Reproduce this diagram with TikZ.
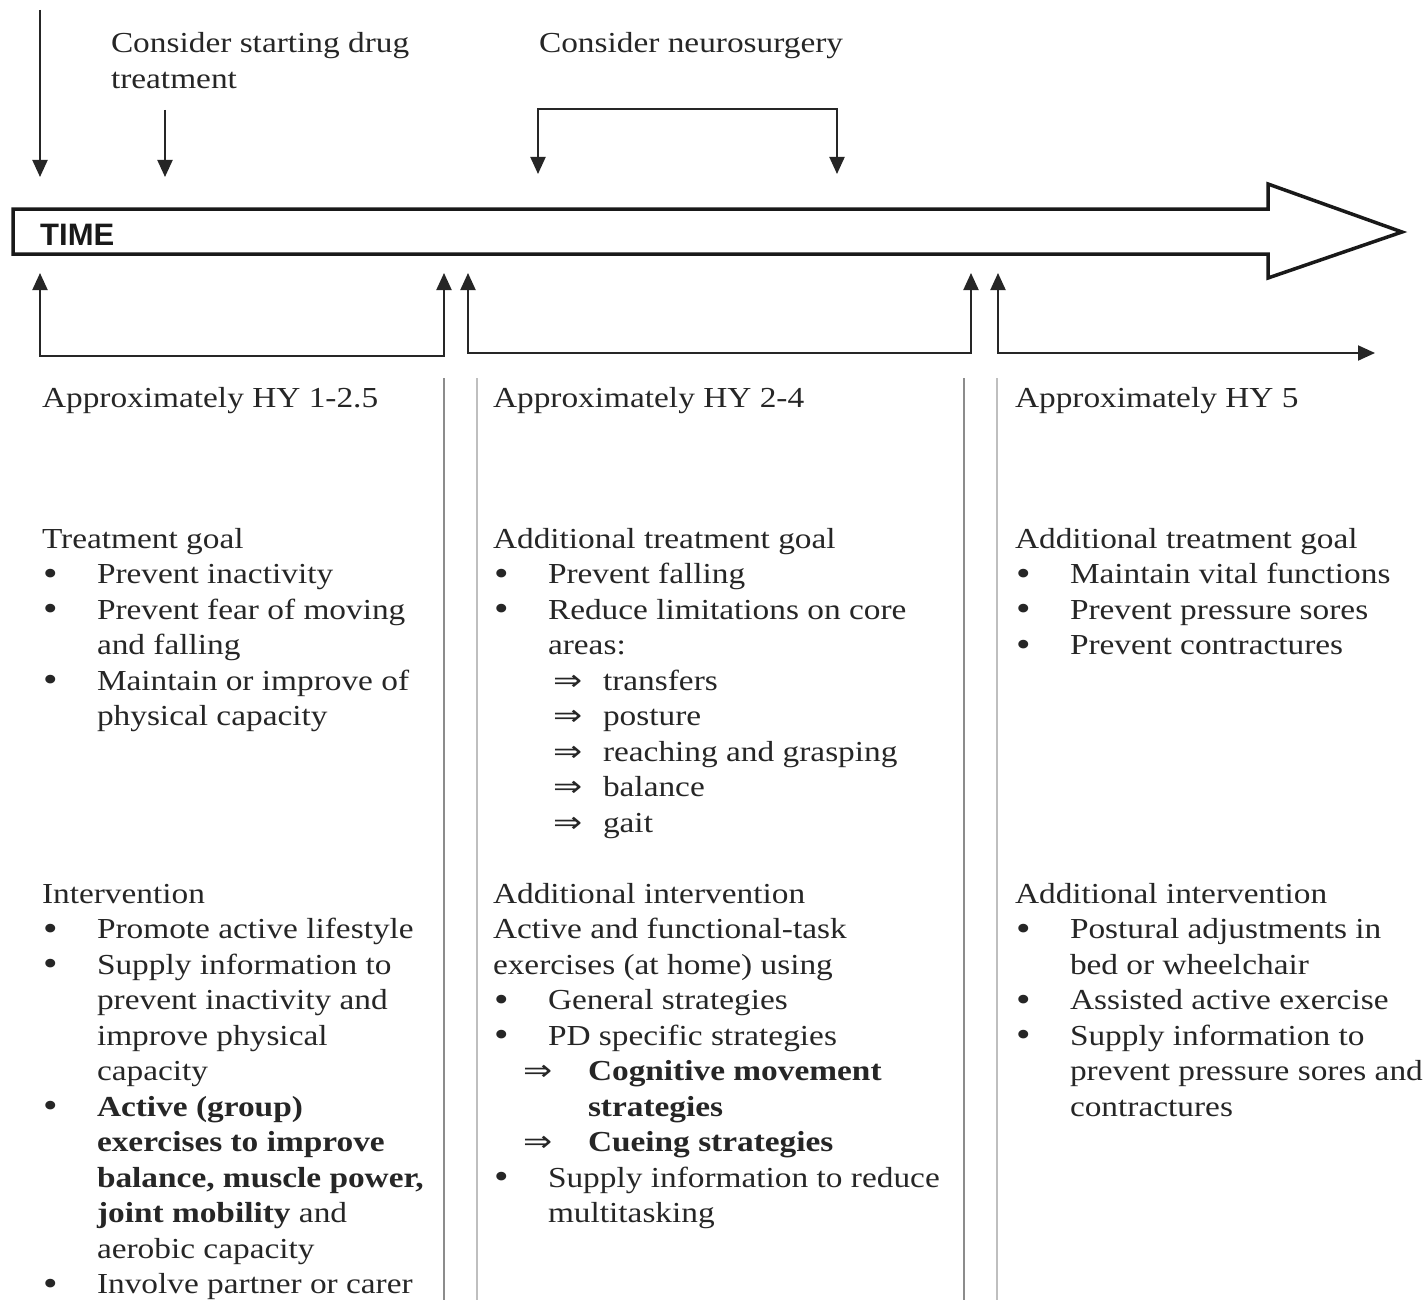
\documentclass[tikz,border=0pt]{standalone}
\usepackage{fontspec}
\setmainfont{Liberation Serif}[FakeStretch=1.15]
\newfontfamily\timefont{Liberation Sans}
\newfontfamily\arrfont{DejaVu Sans}[FakeStretch=1.2]
\usetikzlibrary{arrows.meta}
\tikzset{
  txt/.style={anchor=base west, inner sep=0pt, outer sep=0pt, align=left, text=black!85,
    font=\fontsize{29}{35.5}\selectfont},
  conn/.style={line width=2pt, draw=black!85, -{Triangle[length=17pt,width=15pt]}},
  both/.style={line width=2pt, draw=black!85, {Triangle[length=17pt,width=15pt]}-{Triangle[length=17pt,width=15pt]}},
  sepdark/.style={line width=2pt, draw=black!45},
  seplight/.style={line width=1.6pt, draw=black!25},
  bigarrow/.style={line width=3.5pt, draw=black!90, line join=miter, fill=white},
}
% note: for multi-line nodes the base anchor is the baseline of the LAST line
\newcommand{\bl}{\makebox[55pt][l]{\hspace{1pt}\raisebox{-1.5pt}{\fontsize{36}{35.5}\selectfont\textbullet}}}
\newcommand{\ind}{\hspace*{55pt}}
\newcommand{\arrA}{\hspace*{60pt}\makebox[50pt][l]{\arrfont ⇒}}
\newcommand{\arrB}{\hspace*{30pt}\makebox[65pt][l]{\arrfont ⇒}}
\newcommand{\indB}{\hspace*{95pt}}
\begin{document}
\begin{tikzpicture}[x=1pt,y=-1pt]
\useasboundingbox (0,0) rectangle (1423,1300);
\fill[white] (0,0) rectangle (1423,1300);

% time arrow
\draw[bigarrow] (13,209) -- (1268,209) -- (1268,184) -- (1402,232) -- (1268,278) -- (1268,254) -- (13,254) -- cycle;
\node[anchor=base west, inner sep=0pt, text=black!90, font=\timefont\bfseries\fontsize{31}{31}\selectfont] (time) at (40,245) {TIME};

% top arrows
\coordinate (startS) at (40,10);
\coordinate (startE) at (40,177);
\draw[conn] (startS) -- (startE);
\coordinate (drugS) at (165,110);
\coordinate (drugE) at (165,177);
\draw[conn] (drugS) -- (drugE);
\coordinate (nsA) at (538,174);
\coordinate (nsB) at (538,109);
\coordinate (nsC) at (837,109);
\coordinate (nsD) at (837,174);
\draw[both] (nsA) -- (nsB) -- (nsC) -- (nsD);

% bottom brackets
\coordinate (b1A) at (40,273);
\coordinate (b1B) at (40,356);
\coordinate (b1C) at (444,356);
\coordinate (b1D) at (444,273);
\draw[both] (b1A) -- (b1B) -- (b1C) -- (b1D);
\coordinate (b2A) at (468,273);
\coordinate (b2B) at (468,353);
\coordinate (b2C) at (971,353);
\coordinate (b2D) at (971,273);
\draw[both] (b2A) -- (b2B) -- (b2C) -- (b2D);
\coordinate (b3A) at (998,273);
\coordinate (b3B) at (998,353);
\coordinate (b3C) at (1375,353);
\draw[both] (b3A) -- (b3B) -- (b3C);

% separators
\coordinate (s1t) at (444,378); \coordinate (s1b) at (444,1300);
\coordinate (s2t) at (477,378); \coordinate (s2b) at (477,1300);
\coordinate (s3t) at (964,378); \coordinate (s3b) at (964,1300);
\coordinate (s4t) at (997,378); \coordinate (s4b) at (997,1300);
\draw[sepdark] (s1t) -- (s1b);
\draw[seplight] (s2t) -- (s2b);
\draw[sepdark] (s3t) -- (s3b);
\draw[seplight] (s4t) -- (s4b);

% top labels (positions give the baseline of the last line)
\node[txt] (drug) at (111,88.5) {Consider starting drug\\treatment};
\node[txt] (neuro) at (539,53) {Consider neurosurgery};

% headers
\node[txt] (hy1) at (42,407) {Approximately HY 1-2.5};
\node[txt] (hy2) at (493,407) {Approximately HY 2-4};
\node[txt] (hy3) at (1015,407) {Approximately HY 5};

% goals
\node[txt] (goal1) at (42,725.5) {Treatment goal\\
\bl Prevent inactivity\\
\bl Prevent fear of moving\\
\ind and falling\\
\bl Maintain or improve of\\
\ind physical capacity};

\node[txt] (goal2) at (493,832) {Additional treatment goal\\
\bl Prevent falling\\
\bl Reduce limitations on core\\
\ind areas:\\
\arrA transfers\\
\arrA posture\\
\arrA reaching and grasping\\
\arrA balance\\
\arrA gait};

\node[txt] (goal3) at (1015,654.5) {Additional treatment goal\\
\bl Maintain vital functions\\
\bl Prevent pressure sores\\
\bl Prevent contractures};

% interventions
\node[txt] (int1) at (42,1293.5) {Intervention\\
\bl Promote active lifestyle\\
\bl Supply information to\\
\ind prevent inactivity and\\
\ind improve physical\\
\ind capacity\\
\bl \textbf{Active (group)}\\
\ind \textbf{exercises to improve}\\
\ind \textbf{balance, muscle power,}\\
\ind \textbf{joint mobility} and\\
\ind aerobic capacity\\
\bl Involve partner or carer};

\node[txt] (int2) at (493,1222.5) {Additional intervention\\
Active and functional-task\\
exercises (at home) using\\
\bl General strategies\\
\bl PD specific strategies\\
\arrB \textbf{Cognitive movement}\\
\indB \textbf{strategies}\\
\arrB \textbf{Cueing strategies}\\
\bl Supply information to reduce\\
\ind multitasking};

\node[txt] (int3) at (1015,1116) {Additional intervention\\
\bl Postural adjustments in\\
\ind bed or wheelchair\\
\bl Assisted active exercise\\
\bl Supply information to\\
\ind prevent pressure sores and\\
\ind contractures};
\end{tikzpicture}
\end{document}
